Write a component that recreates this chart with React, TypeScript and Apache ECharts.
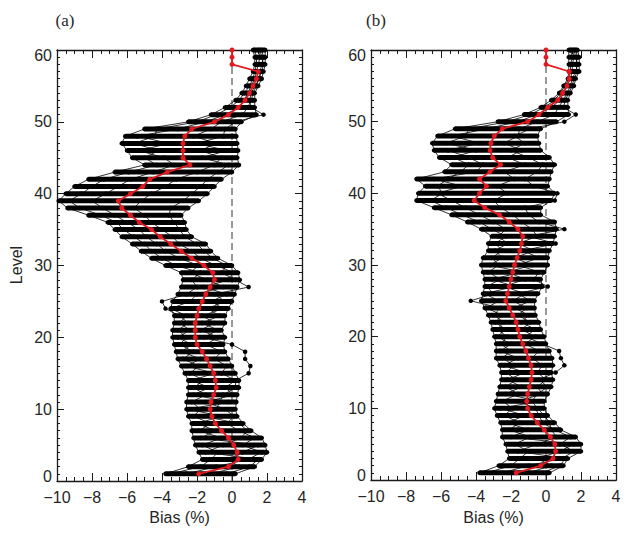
import React, { useEffect, useRef } from 'react';
import * as echarts from 'echarts';

const LEVELS = [1,2,3,4,5,6,7,8,9,10,11,12,13,14,15,16,17,18,19,20,21,22,23,24,25,26,27,28,29,30,31,32,33,34,35,36,37,38,39,40,41,42,43,44,45,46,47,48,49,50,51,52,53,54,55,56,57,58,59,60];
const X_TICKS = [-10, -8, -6, -4, -2, 0, 2, 4];
const Y_TICKS = [0, 10, 20, 30, 40, 50, 60];

// Panel (a)
const A_MEAN = [-1.9,-0.2,0.35,0.3,0.1,-0.2,-0.6,-0.95,-1.15,-1.25, -1.2,-1.05,-0.9,-0.95,-1.05,-1.25,-1.45,-1.7,-2.0,-2.1, -2.1,-2.1,-2.0,-1.9,-1.7,-1.5,-1.25,-1.0,-1.1,-1.6, -2.3,-2.9,-3.5,-4.1,-4.6,-5.3,-5.8,-6.3,-6.5,-5.8, -5.1,-4.7,-3.7,-2.4,-2.8,-2.8,-2.8,-2.7,-2.3,-1.0, -0.2,0.35,0.75,1.0,1.2,1.4,1.5,0,0,0];
const A_LO = [-3.8,-2.5,-1.7,-1.9,-2.1,-2.2,-2.3,-2.3,-2.5,-2.6, -2.6,-2.5,-2.5,-2.5,-2.7,-2.9,-3.1,-3.2,-3.3,-3.4, -3.4,-3.3,-3.3,-3.5,-3.4,-3.1,-2.9,-2.8,-2.9,-3.8, -4.6,-5.2,-5.7,-6.3,-6.7,-7.1,-8.2,-9.4,-9.9,-9.5, -9.0,-8.2,-6.7,-5.0,-5.7,-6.0,-6.3,-6.1,-5.0,-2.5, -1.2,-0.4,0.2,0.55,0.8,1.0,1.2,1.3,1.3,1.2];
const A_HI = [0.2,1.3,1.7,2.0,1.9,1.7,1.1,0.65,0.3,0.2, 0.25,0.3,0.4,0.4,0.2,0,-0.2,-0.4,-0.5,-0.4, -0.6,-0.4,-0.4,-0.2,0,0.15,0.3,0.45,0.35,0, -0.8,-1.2,-1.5,-2.3,-2.6,-2.7,-2.9,-2.5,-1.9,-1.4, -1.0,-0.6,0,0.4,0.3,0.35,0.3,0.25,0.2,0.55, 1.4,1.3,1.3,1.3,1.5,1.7,1.8,1.9,1.9,1.9];
const A_M1 = [-3.5,-1.8,-1.2,-0.8,-1.7,-0.6,-1.9,-1.2,-2.2,-1.8, -2.3,-1.5,-2.2,-1.6,-2.4,-1.9,-2.8,-2.2,-3.0,-2.6, -3.1,-2.5,-3.0,-3.8,-4.0,-2.6,-2.0,-2.3,-1.8,-3.2, -4.0,-4.6,-5.0,-5.6,-6.2,-6.6,-7.5,-8.7,-9.3,-8.6, -8.0,-7.3,-5.9,-4.3,-5.0,-4.2,-5.6,-4.4,-4.3,-2.0, -0.9,-0.1,0.4,0.7,1.0,1.2,1.3,1.4,1.4,1.3];
const A_M2 = [-2.6,-0.9,0.9,1.7,0.6,1.3,0.4,-0.3,0.1,-0.4, -1.5,0.1,-0.4,0.2,-0.6,-0.3,-1.0,-0.6,-1.5,-0.8, -1.8,-1.0,-1.7,-0.5,-1.2,-0.3,-1.6,-0.2,0.1,-0.9, -1.8,-2.3,-3.0,-3.4,-4.0,-4.6,-5.0,-5.6,-5.2,-4.6, -3.8,-3.2,-2.0,-1.0,-0.6,-1.8,-0.9,-2.2,-1.2,-0.6, 0.6,0.9,1.1,1.2,1.4,1.5,1.7,1.8,1.7,1.6];
const A_M3 = [-1.2,0.4,-0.2,0.6,1.5,-1.8,-0.9,-2.0,-0.6,-2.5, -0.2,-2.2,-1.3,-2.3,-1.0,-2.6,-1.8,-2.9,-2.3,-3.1, -2.4,-3.0,-2.6,-3.5,-2.4,-2.0,-0.5,-1.4,-2.4,-1.9, -3.0,-3.8,-4.3,-4.9,-5.3,-6.0,-6.7,-7.4,-8.0,-7.2, -6.5,-5.8,-4.5,-3.3,-3.9,-5.3,-3.6,-5.4,-3.1,-1.5, -0.4,0.4,0.7,0.9,1.1,1.3,1.4,1.5,1.6,1.5];
const A_M4 = [-0.3,1.0,1.5,-1.5,-0.5,0.5,0.9,0.4,-1.6,-0.9, -0.7,-0.5,0.2,0.2,0.95,1.05,0.75,0.75,0.0,-1.6, -0.8,-1.7,-0.7,-1.4,-0.4,-1.0,0.95,0.2,-0.6,-0.3, -1.1,-1.6,-2.0,-2.7,-3.0,-3.3,-3.6,-3.5,-2.8,-2.3, -1.8,-1.4,-0.8,-0.2,-1.7,-0.3,-2.0,-0.5,-0.4,0.2, 1.8,1.1,1.0,1.1,1.3,1.6,1.6,1.7,1.8,1.7];

// Panel (b)
const B_MEAN = [-1.7,-0.3,0.4,0.55,0.5,0.25,-0.1,-0.5,-0.85,-1.05, -1.1,-1.05,-0.95,-0.85,-0.8,-0.85,-1.0,-1.15,-1.33,-1.5, -1.6,-1.7,-1.9,-2.1,-2.3,-2.2,-2.1,-2.0,-1.9,-1.8, -1.65,-1.5,-1.4,-1.33,-1.6,-2.1,-2.65,-3.5,-4.1,-3.8, -3.4,-3.8,-3.2,-2.6,-3.05,-3.2,-3.15,-2.95,-2.5,-1.05, -0.4,0.1,0.67,0.95,1.2,1.33,1.33,0,0,0];
const B_LO = [-3.8,-2.7,-2.1,-2.2,-2.3,-2.5,-2.5,-2.6,-2.8,-2.95, -2.85,-2.75,-2.65,-2.55,-2.55,-2.65,-2.85,-2.85,-2.85,-2.95, -3.05,-3.15,-3.3,-3.5,-3.7,-3.6,-3.5,-3.5,-3.6,-3.7, -3.6,-3.3,-3.3,-3.1,-3.7,-4.5,-5.4,-6.4,-7.4,-7.3, -6.9,-7.4,-5.8,-5.4,-6.1,-6.4,-6.5,-6.2,-5.2,-2.75, -1.25,-0.3,0.3,0.75,1.0,1.25,1.3,1.3,1.3,1.3];
const B_HI = [0.2,1.0,1.25,2.0,2.0,1.7,0.85,0.5,0.1,-0.1, -0.1,0.1,0.3,0.4,0.3,0.4,0.35,0.2,0.0,-0.1, -0.3,-0.4,-0.6,-0.65,-0.65,-0.45,-0.2,-0.3,-0.1,0.1, 0.1,0.2,0.4,0.5,0.6,0.5,-0.3,-0.3,0.3,0.5, 0.1,0.2,0.3,0.5,0.2,-0.3,-0.4,-0.5,-0.3,0.6, 1.3,1.25,1.25,1.4,1.6,1.7,1.9,1.9,1.9,1.8];
const B_M1 = [-3.4,-2.0,-1.5,-1.0,-1.8,-0.9,-2.1,-1.5,-2.4,-1.9, -2.5,-1.6,-2.3,-1.7,-2.3,-1.8,-2.5,-2.0,-2.6,-2.2, -2.8,-2.4,-3.0,-2.6,-4.3,-3.0,-3.4,-2.6,-3.3,-2.7, -3.1,-2.5,-2.9,-2.3,-3.1,-3.8,-4.8,-5.7,-6.6,-5.9, -6.2,-5.6,-4.9,-4.4,-5.3,-4.0,-5.7,-4.6,-4.4,-2.2, -0.9,-0.1,0.5,0.8,1.1,1.3,1.4,1.4,1.5,1.4];
const B_M2 = [-2.5,-1.0,0.9,1.6,0.8,1.4,0.5,-0.2,-0.4,-0.6, -1.6,-0.2,-0.5,0.0,-0.5,-0.2,-0.8,-0.4,-1.2,-0.6, -1.4,-0.9,-1.6,-1.1,-1.9,-1.2,-2.4,-1.2,-2.2,-0.8, -1.8,-0.7,-1.6,-0.5,-0.8,-1.4,-1.9,-2.6,-3.0,-2.2, -2.8,-1.8,-2.4,-1.2,-2.2,-1.4,-2.4,-1.6,-1.5,-0.5, 0.5,0.7,1.0,1.2,1.4,1.5,1.7,1.8,1.7,1.6];
const B_M3 = [-1.0,0.3,-0.5,0.8,1.6,-2.0,-1.0,-2.2,-1.2,-2.6, -0.4,-2.3,-1.4,-2.2,-1.2,-2.4,-1.6,-2.6,-2.0,-2.8, -2.3,-2.9,-2.5,-3.4,-2.7,-3.5,-1.8,-3.1,-1.4,-3.2, -2.5,-2.9,-2.2,-2.7,-2.3,-3.0,-3.8,-4.6,-5.4,-6.2, -4.8,-6.4,-4.0,-3.6,-4.4,-5.6,-3.8,-5.4,-3.4,-1.6, -0.5,0.3,0.8,1.0,1.2,1.4,1.5,1.5,1.6,1.5];
const B_M4 = [-0.2,0.8,1.1,-1.6,-0.5,0.6,0.3,0.2,-0.1,-0.5, -0.8,-0.5,0.1,-0.4,0.55,1.05,0.85,0.75,-0.2,-1.2, -0.6,-1.4,-1.0,-1.8,-0.9,-1.6,0.1,-0.7,-0.4,-1.6, -0.4,-1.3,0.55,-1.0,1.05,-0.4,-1.0,-1.2,0.5,0.65, -0.7,-1.2,-0.5,-0.2,-1.0,-2.0,-1.2,-1.8,-0.9,1.05, 1.7,1.0,1.1,1.3,1.5,1.6,1.8,1.7,1.8,1.7];

const SANS = "'Liberation Sans', Arial, Helvetica, sans-serif";
const SERIF = "'Liberation Serif', 'Times New Roman', serif";
const AXIS_COLOR = '#1a1a1a';
const TEXT_COLOR = '#262626';
const RED = '#e2191e';

const pts = (arr: number[]) => arr.map((v, i) => [v, LEVELS[i]]);

function xAxisDef(grid: number, pos: 'bottom' | 'top') {
  return {
    type: 'value', gridIndex: grid, position: pos, min: -10, max: 4, interval: 2,
    axisLine: { show: true, onZero: false, lineStyle: { color: AXIS_COLOR, width: 1.3 } },
    axisTick: { show: true, inside: true, length: 8, lineStyle: { color: AXIS_COLOR, width: 1 } },
    minorTick: { show: true, splitNumber: 4, length: 4, lineStyle: { color: AXIS_COLOR, width: 1 } },
    splitLine: { show: false }, minorSplitLine: { show: false },
    axisLabel: {
      show: pos === 'bottom', margin: 8, fontSize: 16, color: TEXT_COLOR, fontFamily: SANS,
      showMinLabel: true, showMaxLabel: true, customValues: X_TICKS,
      formatter: (v: number) => String(v).replace('-', '\u2212'),
    },
  };
}

const Y_RICH_BASE = { fontSize: 16, color: TEXT_COLOR, fontFamily: SANS };

function yAxisDef(grid: number, pos: 'left' | 'right') {
  return {
    type: 'value', gridIndex: grid, position: pos, min: 0, max: 60, interval: 10,
    axisLine: { show: true, onZero: false, lineStyle: { color: AXIS_COLOR, width: 1.3 } },
    axisTick: { show: true, inside: true, length: 7, lineStyle: { color: AXIS_COLOR, width: 1 } },
    minorTick: { show: true, splitNumber: 10, length: 3, lineStyle: { color: AXIS_COLOR, width: 1 } },
    splitLine: { show: false }, minorSplitLine: { show: false },
    axisLabel: {
      show: pos === 'left', margin: 5, fontSize: 16, color: TEXT_COLOR, fontFamily: SANS,
      showMinLabel: true, showMaxLabel: true, customValues: Y_TICKS,
      formatter: (v: number) => (v === 0 ? `{lo|${v}}` : v === 60 ? `{hi|${v}}` : `{m|${v}}`),
      rich: {
        lo: { ...Y_RICH_BASE, padding: [0, 0, 10, 0] },
        hi: { ...Y_RICH_BASE, padding: [10, 0, 0, 0] },
        m: { ...Y_RICH_BASE },
      },
    },
  };
}

function panelSeries(p: number, lo: number[], hi: number[], members: number[][], mean: number[]) {
  const axes = { xAxisIndex: p * 2, yAxisIndex: p * 2 };
  const out: any[] = [];
  out.push({
    type: 'line', ...axes, data: [[0, 0], [0, 60]], symbol: 'none', silent: true, z: 1,
    lineStyle: { color: '#333', width: 1, type: [7, 4] },
  });
  out.push({
    type: 'custom', ...axes, silent: true, z: 2,
    data: LEVELS.map((L, i) => [lo[i], hi[i], L]),
    encode: { x: [0, 1], y: 2 },
    renderItem: (_params: any, api: any) => {
      const a = api.coord([api.value(0), api.value(2)]);
      const b = api.coord([api.value(1), api.value(2)]);
      return {
        type: 'rect',
        shape: { x: a[0], y: a[1] - 2.5, width: b[0] - a[0], height: 5 },
        style: { fill: '#000' },
      };
    },
  });
  [lo, hi, ...members].forEach((m) => {
    out.push({
      type: 'line', ...axes, data: pts(m), symbol: 'circle', symbolSize: 4.5, silent: true, z: 3,
      itemStyle: { color: '#000' }, lineStyle: { color: '#000', width: 0.8 },
    });
  });
  out.push({
    type: 'line', ...axes, data: pts(mean), symbol: 'circle', symbolSize: 5, silent: true, z: 5,
    itemStyle: { color: RED }, lineStyle: { color: RED, width: 1.8 },
  });
  return out;
}

export default function App() {
  const ref = useRef<HTMLDivElement>(null);
  useEffect(() => {
    if (!ref.current) return;
    const chart = echarts.init(ref.current, undefined, { renderer: 'svg' });
    const txt = (text: string, x: number, y: number, font: string, size: number, rot = 0) => ({
      type: 'text', x, y, rotation: rot, silent: true,
      style: { text, fill: TEXT_COLOR, font: `${size}px ${font}`, align: 'center', verticalAlign: 'middle' },
    });
    chart.setOption({
      animation: false,
      backgroundColor: '#ffffff',
      grid: [
        { left: 57, top: 50, width: 245, height: 431 },
        { left: 371, top: 50, width: 245, height: 430 },
      ],
      xAxis: [xAxisDef(0, 'bottom'), xAxisDef(0, 'top'), xAxisDef(1, 'bottom'), xAxisDef(1, 'top')],
      yAxis: [yAxisDef(0, 'left'), yAxisDef(0, 'right'), yAxisDef(1, 'left'), yAxisDef(1, 'right')],
      series: [
        ...panelSeries(0, A_LO, A_HI, [A_M1, A_M2, A_M3, A_M4], A_MEAN),
        ...panelSeries(1, B_LO, B_HI, [B_M1, B_M2, B_M3, B_M4], B_MEAN),
      ],
      graphic: [
        txt('(a)', 65, 20, SERIF, 17),
        txt('(b)', 376, 20, SERIF, 17),
        txt('Level', 16, 265, SANS, 16, Math.PI / 2),
        txt('Bias (%)', 179.5, 517, SANS, 16),
        txt('Bias (%)', 493.5, 517, SANS, 16),
      ],
    });
    return () => chart.dispose();
  }, []);
  return <div ref={ref} style={{ position: 'absolute', left: 0, top: 0, width: 643, height: 538 }} />;
}
